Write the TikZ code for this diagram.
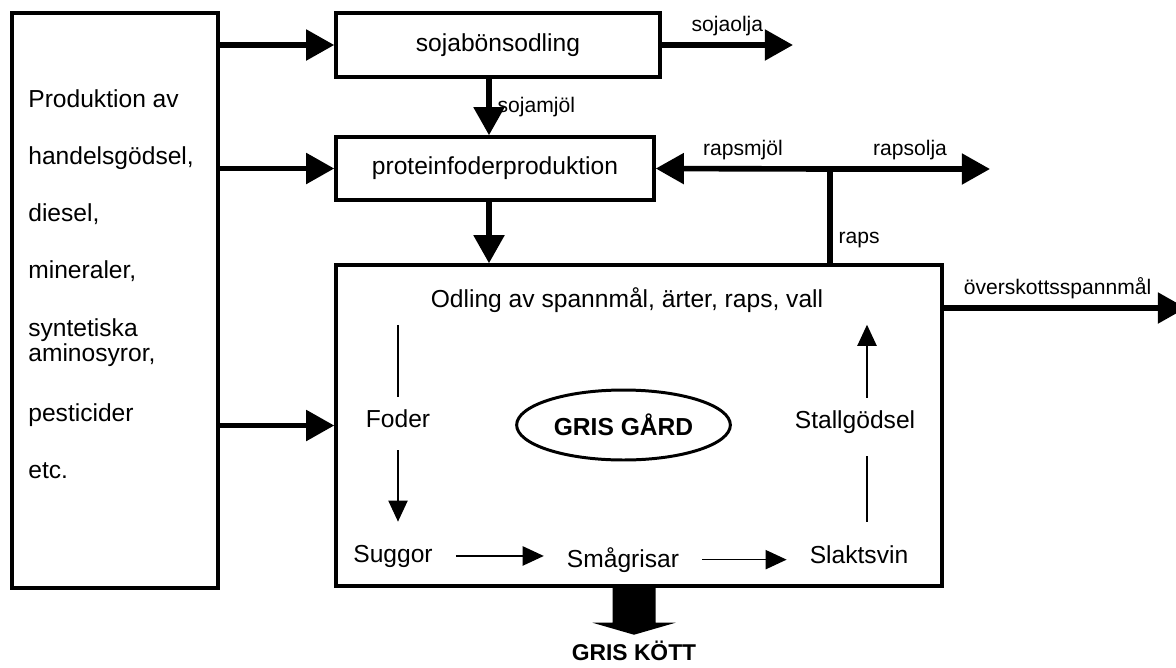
\documentclass[tikz,border=0pt]{standalone}
\usepackage{fontspec}
\setmainfont{Liberation Sans}
\usetikzlibrary{arrows.meta,shapes.geometric}

\begin{document}
\begin{tikzpicture}[x=0.02cm,y=-0.02cm,
	box/.style={draw,line width=2pt,font=\fontsize{14}{17}\selectfont},
	flow/.style={inner sep=7pt,anchor=base,font=\fontsize{14}{17}\selectfont},
	intext/.style={anchor=base west,inner sep=0pt,font=\fontsize{14}{17}\selectfont},
	lbl/.style={font=\fontsize{12}{14}\selectfont},
	fat/.style={line width=3.2pt,-{Triangle[length=16pt,width=17pt]}},
	slim/.style={line width=0.7pt,-{Triangle[length=12pt,width=11pt]}},
	gap/.style={shorten <=6pt,shorten >=6pt}]
	\useasboundingbox (0,0) rectangle (1176,667);
	\node[box,minimum width=4.12cm,minimum height=11.5cm] (src) at (115,300.5) {};
	\node[intext] (in1) at (28,107) {Produktion av};
	\node[intext] (in2) at (28,164) {handelsgödsel,};
	\node[intext] (in3) at (28,221) {diesel,};
	\node[intext] (in4) at (28,278) {mineraler,};
	\node[intext] (in5) at (28,336) {syntetiska};
	\node[intext] (in6) at (28,361) {aminosyror,};
	\node[intext] (in7) at (28,421) {pesticider};
	\node[intext] (in8) at (28,478) {etc.};
	\node[box,minimum width=6.48cm,minimum height=1.28cm] (soja) at (498,45) {sojabönsodling};
	\node[box,minimum width=6.36cm,minimum height=1.26cm] (prot) at (495,168.5) {proteinfoderproduktion};
	\node[box,minimum width=12.12cm,minimum height=6.42cm] (farm) at (639,425.5) {};
	\node[flow] (odl) at (627,307) {Odling av spannmål, ärter, raps, vall};
	\node[flow] (foder) at (398,427) {Foder};
	\node[flow] (sug) at (393,562) {Suggor};
	\node[flow] (sma) at (623,567) {Smågrisar};
	\node[flow] (slak) at (859,563) {Slaktsvin};
	\node[flow] (stall) at (855,428) {Stallgödsel};
	\node[draw,ellipse,line width=1.7pt,minimum width=3.86cm,minimum height=1.4cm,font=\bfseries\fontsize{14}{17}\selectfont] (gard) at (623.5,425) {GRIS GÅRD};
	\node[anchor=base,font=\bfseries\fontsize{13}{15}\selectfont] (kott) at (634,660) {GRIS KÖTT};
	\coordinate (col) at (489,0);
	\coordinate (rj) at (830,169);
	\coordinate (rcol) at (867,0);
	\coordinate (sojaend) at (793,45);
	\coordinate (oilend) at (990,169);
	\coordinate (surplus) at (1186,308);
	\draw[fat] (src.east |- soja.west) -- (soja.west);
	\draw[fat] (src.east |- prot.west) -- (prot.west);
	\draw[fat] (src.east |- farm.west) -- (farm.west);
	\draw[fat] (soja.south -| col) -- node[right,lbl] (mjol) {sojamjöl} (prot.north -| col);
	\draw[fat] (prot.south -| col) -- (farm.north -| col);
	\draw[fat] (soja.east) -- node[above,lbl] (olja) {sojaolja} (sojaend);
	\draw[line width=3.2pt] (farm.north -| rj) -- node[right,lbl,pos=0.25] (raps) {raps} (rj);
	\draw[fat] (rj) -- node[above,lbl] (rmjol) {rapsmjöl} (prot.east);
	\draw[fat] (rj) -- node[above,lbl] (rolja) {rapsolja} (oilend);
	\draw[fat] (farm.east |- surplus) -- node[above,lbl,pos=0.47] (over) {överskottsspannmål} (surplus);
	\draw[line width=0.7pt] (odl.south -| foder) -- (foder.north);
	\draw[slim,gap] (foder.south) -- (foder.south |- sug.north);
	\draw[slim,gap] (sug.east) -- (sug.east -| sma.west);
	\draw[slim,gap] (sma.east) -- (sma.east -| slak.west);
	\draw[line width=0.7pt,gap] (slak.north -| rcol) -- (stall.south -| rcol);
	\draw[slim] (stall.north -| rcol) -- (odl.south -| rcol);
	\fill (farm.south -| kott) ++(-21.5,0) -- ++(0,35) -- ++(-20,0) -- ++(41.5,12) -- ++(41.5,-12) -- ++(-20,0) -- ++(0,-35) -- cycle;
\end{tikzpicture}
\end{document}
